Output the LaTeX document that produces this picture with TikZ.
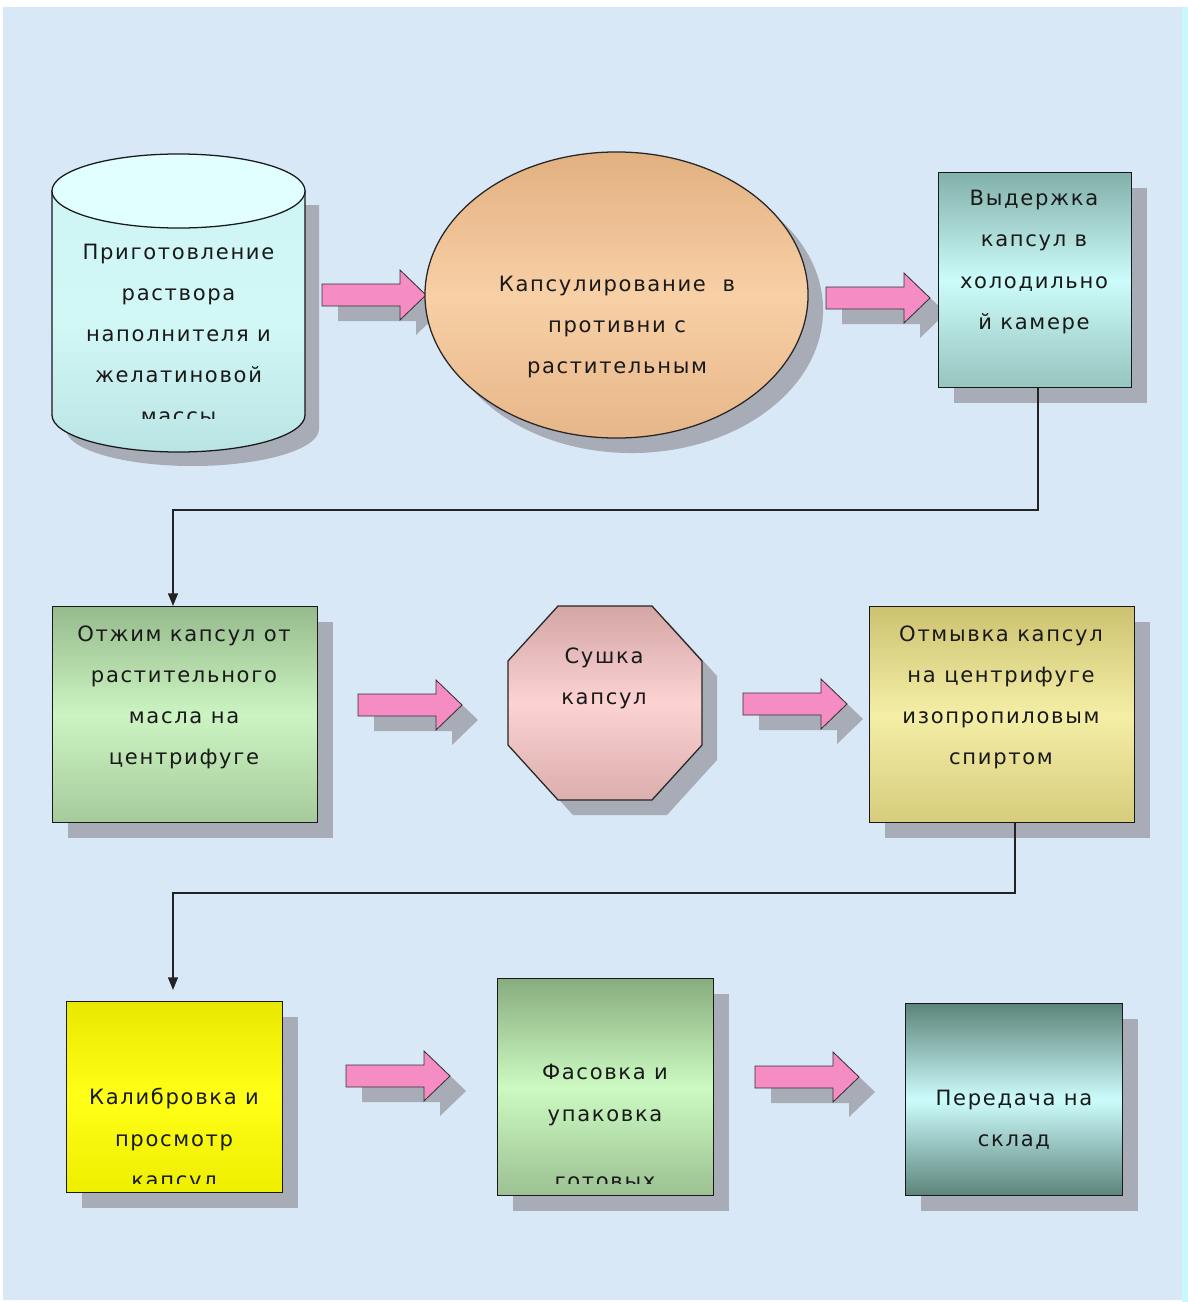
\documentclass[tikz,border=0pt]{standalone}
\usepackage{fontspec}
\newfontfamily\lblfont[LetterSpace=8]{DejaVu Sans}
\usetikzlibrary{shapes.geometric,arrows.meta,shadows}
\definecolor{bgc}{RGB}{217,232,246}
\definecolor{stripc}{RGB}{200,248,250}
\definecolor{shc}{RGB}{168,172,182}
\definecolor{pinkc}{RGB}{245,140,195}
\definecolor{linec}{RGB}{35,35,35}
\begin{document}
\begin{tikzpicture}[x=0.025cm,y=-0.025cm,
  lbl/.style={font=\lblfont\fontsize{15}{29.2}\selectfont, align=center, text=black!90, inner sep=0},
  conn/.style={draw=linec, line width=1.1pt, -{Triangle[length=9pt,width=7pt]}},
  shad/.style={drop shadow={shadow xshift=0.375cm, shadow yshift=-0.375cm, fill=shc, opacity=1}},
  box/.style={draw=black!90, line width=0.9pt, rectangle, inner sep=0, anchor=north west, shad},
  barrow/.pic={
    \fill[shc] (16,4) -- (94,4) -- (94,-10) -- (120,15) -- (94,40) -- (94,26) -- (16,26) -- cycle;
    \draw[fill=pinkc, draw=black!80, line width=0.6pt] (0,-11) -- (78,-11) -- (78,-25) -- (104,0) -- (78,25) -- (78,11) -- (0,11) -- cycle;
  }
]
\useasboundingbox (0,0) rectangle (1188,1302);
\fill[white] (0,0) rectangle (1188,1302);
\fill[bgc] (3,7) rectangle (1182,1300);
\fill[stripc] (1182,7) rectangle (1188,1302);

% ---------- row 1 ----------
% cylinder
\fill[shc] (66,205) -- (66,429) .. controls (66,449.4) and (122.6,466) .. (192.5,466) .. controls (262.4,466) and (319,449.4) .. (319,429) -- (319,205) -- cycle;
\shade[top color={rgb,255:red,206;green,244;blue,244}, bottom color={rgb,255:red,186;green,228;blue,228}, middle color={rgb,255:red,210;green,248;blue,246}, draw=black!90, line width=0.9pt]
  (52,191) -- (52,415) .. controls (52,435.4) and (108.6,452) .. (178.5,452) .. controls (248.4,452) and (305,435.4) .. (305,415) -- (305,191) -- cycle;
\draw[fill={rgb,255:red,226;green,255;blue,255}, draw=black!90, line width=0.9pt] (178.5,191) ellipse [x radius=3.1625cm, y radius=0.925cm];
\begin{scope}
  \clip (52,230) rectangle (305,418);
  \node[lbl] (t1) at (178.5,334) {Приготовление\\раствора\\наполнителя и\\желатиновой\\массы};
\end{scope}

\pic at (322,295) {barrow};

\node[ellipse, minimum width=9.575cm, minimum height=7.15cm, inner sep=0, draw=black!85, line width=0.9pt, shad,
  top color={rgb,255:red,226;green,176;blue,128}, bottom color={rgb,255:red,230;green,182;blue,136}, middle color={rgb,255:red,248;green,208;blue,166}]
  (b2) at (616.5,295) {};
\node[lbl] (t2) at (617,327) {Капсулирование~~в\\противни с\\растительным};

\pic at (826,298) {barrow};

\node[box, minimum width=4.825cm, minimum height=5.375cm,
  top color={rgb,255:red,130;green,176;blue,170}, bottom color={rgb,255:red,150;green,196;blue,190}, middle color={rgb,255:red,204;green,252;blue,250}]
  (b3) at (938,172) {};
\node[lbl] (t3) at (1034,262) {Выдержка\\капсул в\\холодильно\\й камере};

% ---------- row 2 ----------
\node[box, minimum width=6.625cm, minimum height=5.4cm,
  top color={rgb,255:red,150;green,186;blue,140}, bottom color={rgb,255:red,166;green,202;blue,156}, middle color={rgb,255:red,204;green,244;blue,194}]
  (b4) at (52,606) {};
\node[lbl] (t4) at (184,697) {Отжим капсул от\\растительного\\масла на\\центрифуге};

\pic at (358,705) {barrow};

\fill[shc] (573,621) -- (667,621) -- (717,676) -- (717,760) -- (667,815) -- (573,815) -- (523,760) -- (523,676) -- cycle;
\shade[top color={rgb,255:red,212;green,166;blue,166}, bottom color={rgb,255:red,220;green,174;blue,174}, middle color={rgb,255:red,252;green,210;blue,210}, draw=black!85, line width=0.9pt]
  (558,606) -- (652,606) -- (702,661) -- (702,745) -- (652,800) -- (558,800) -- (508,745) -- (508,661) -- cycle;
\node[lbl] (t5) at (604,678) {Сушка\\капсул};

\pic at (743,704) {barrow};

\node[box, minimum width=6.625cm, minimum height=5.4cm,
  top color={rgb,255:red,204;green,194;blue,112}, bottom color={rgb,255:red,214;green,204;blue,124}, middle color={rgb,255:red,244;green,238;blue,166}]
  (b6) at (869,606) {};
\node[lbl] (t6) at (1001,697) {Отмывка капсул\\на центрифуге\\изопропиловым\\спиртом};

% ---------- row 3 ----------
\node[box, minimum width=5.4cm, minimum height=4.775cm,
  top color={rgb,255:red,232;green,232;blue,0}, bottom color={rgb,255:red,238;green,238;blue,0}, middle color={rgb,255:red,255;green,255;blue,24}]
  (b7) at (66,1001) {};
\begin{scope}
  \clip (66,1001) rectangle (282,1183);
  \node[lbl] (t7) at (174,1140) {Калибровка и\\просмотр\\капсул};
\end{scope}

\pic at (346,1076) {barrow};

\node[box, minimum width=5.4cm, minimum height=5.425cm,
  top color={rgb,255:red,136;green,172;blue,126}, bottom color={rgb,255:red,156;green,192;blue,146}, middle color={rgb,255:red,204;green,250;blue,194}]
  (b8) at (497,978) {};
\node[lbl] (t8) at (605,1095) {Фасовка и\\упаковка};
\begin{scope}
  \clip (497,978) rectangle (713,1183);
  \node[lbl, anchor=base] (t8b) at (605,1188) {готовых};
\end{scope}

\pic at (755,1077) {barrow};

\node[box, minimum width=5.425cm, minimum height=4.8cm,
  top color={rgb,255:red,92;green,132;blue,122}, bottom color={rgb,255:red,92;green,132;blue,122}, middle color={rgb,255:red,204;green,252;blue,252}]
  (b9) at (905,1003) {};
\node[lbl] (t9) at (1014,1120) {Передача на\\склад};

% ---------- connectors ----------
\coordinate (k1) at (1038,510);
\coordinate (k2) at (173,510);
\draw[conn] (b3.south -| k1) -- (k1) -- (k2) -- (k2 |- b4.north);
\coordinate (k3) at (1015,893);
\coordinate (k4) at (173,893);
\coordinate (k5) at (173,990);
\draw[conn] (b6.south -| k3) -- (k3) -- (k4) -- (k5);
\end{tikzpicture}
\end{document}
